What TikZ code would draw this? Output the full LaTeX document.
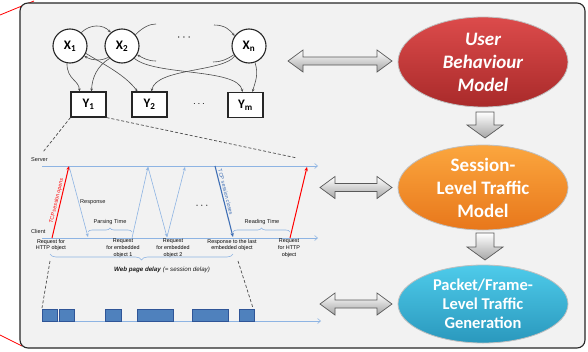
\documentclass[tikz,border=0pt]{standalone}
\usepackage{fontspec}
\setmainfont{Carlito}
\newfontfamily\arialf{Liberation Sans}
\usetikzlibrary{arrows.meta,decorations.pathreplacing,shapes.geometric}
\definecolor{frameBg}{HTML}{F2F2F2}
\definecolor{tline}{HTML}{8EB4E3}
\definecolor{tdark}{HTML}{3F6FB5}
\definecolor{pk}{HTML}{4F81BD}
\definecolor{pkd}{HTML}{2F5597}
\definecolor{redA}{HTML}{DC4B4B}
\definecolor{redB}{HTML}{A92A2A}
\definecolor{orA}{HTML}{FBA63E}
\definecolor{orB}{HTML}{E8771B}
\definecolor{cyA}{HTML}{4ECBEA}
\definecolor{cyB}{HTML}{2A98BD}
\newcommand{\DblArrow}[3]{%
  \path[blockarrow] (#1,#3) -- (#1+15,#3-11) -- (#1+15,#3-4) -- (#2-15,#3-4) -- (#2-15,#3-11) -- (#2,#3)
   -- (#2-15,#3+11) -- (#2-15,#3+4) -- (#1+15,#3+4) -- (#1+15,#3+11) -- cycle;}
\newcommand{\DownArrow}[3]{%
  \path[blockarrow] (#1-9,#2) -- (#1+9,#2) -- (#1+9,#3-13) -- (#1+18,#3-13) -- (#1,#3)
   -- (#1-18,#3-13) -- (#1-9,#3-13) -- cycle;}
\begin{document}
\begin{tikzpicture}[x=1pt,y=-1pt,
  bn/.style={circle, draw=black!85, line width=1.1pt, fill=white, minimum size=34pt, inner sep=0pt, font=\fontsize{13}{15}\selectfont\bfseries},
  bnbox/.style={rectangle, draw=black!85, line width=1.1pt, fill=white, minimum width=35pt, minimum height=25pt, inner sep=0pt, font=\fontsize{13}{15}\selectfont\bfseries},
  bnedge/.style={draw=black!70, line width=0.6pt, -{Stealth[length=3pt,width=2.6pt]}},
  bnopen/.style={draw=black!70, line width=0.6pt},
  blockarrow/.style={draw=black!65, line width=0.7pt, top color=white, bottom color=black!35},
  ell/.style={ellipse, minimum width=170pt, inner sep=0pt, draw=white!75!black, line width=0.8pt, text=white, align=center, font=\fontsize{19}{23}\selectfont\bfseries},
  axisarrow/.style={draw=tline, line width=0.6pt, -{Straight Barb[length=3pt,width=5pt]}},
  tarrow/.style={draw=tline, line width=0.6pt, -{Stealth[length=3.5pt,width=3pt]}},
  redarrow/.style={draw=red, line width=1pt, -{Stealth[length=4pt,width=3.5pt]}},
  closearrow/.style={draw=tdark, line width=1.1pt, -{Stealth[length=4pt,width=3.5pt]}},
  tlabel/.style={font=\arialf\fontsize{5.6}{7}\selectfont, inner sep=0pt, text=black!90},
  blabel/.style={font=\arialf\fontsize{5.4}{6.8}\selectfont, inner sep=0pt, align=center, text=black},
  dashline/.style={draw=black!70, line width=0.7pt, dash pattern=on 3pt off 2pt},
  pkt/.style={draw=pkd, fill=pk, line width=0.6pt},
  tbrace/.style={draw=tline, line width=0.6pt, decorate}
]
\useasboundingbox (0,0) rectangle (588,351);
% callout lines
\coordinate (rA1) at (0,15); \coordinate (rA2) at (34,1);
\coordinate (rB1) at (0,335); \coordinate (rB2) at (22,346);
\draw[red, line width=0.8pt] (rA1) -- (rA2);
\draw[red, line width=0.8pt] (rB1) -- (rB2);
% frame
\draw[fill=frameBg, draw=black!85, line width=1.1pt, rounded corners=8pt] (20,3) rectangle (585,348);

% Bayesian network
\node[bn] (X1) at (70,46) {X\textsubscript{1}};
\node[bn] (X2) at (122,46) {X\textsubscript{2}};
\node[bn] (Xn) at (249,46) {X\textsubscript{n}};
\node[font=\fontsize{12}{14}\selectfont\bfseries] (xdots) at (184,38) {$\cdots$};
\node[bnbox] (Y1) at (88.5,104.5) {Y\textsubscript{1}};
\node[bnbox] (Y2) at (149.5,104.5) {Y\textsubscript{2}};
\node[bnbox] (Ym) at (245.5,105) {Y\textsubscript{m}};
\node[font=\fontsize{10}{12}\selectfont] (ydots) at (199,104) {$\cdots$};

\draw[bnedge] (X1.-100) .. controls (67,80) and (79,80) .. ([xshift=-9pt]Y1.north);
\draw[bnedge] (X2.-135) .. controls (97,66) and (92,78) .. ([xshift=3pt]Y1.north);
\draw[bnedge] (X1.50) .. controls (90,24) and (103,24) .. (X2.130);
\draw[bnedge] (X2.-140) .. controls (101,61) and (93,61) .. (X1.-35);
\draw[bnedge] (X1.-25) .. controls (105,65) and (125,75) .. ([xshift=-12pt]Y2.north);
\draw[bnedge] (X2.-45) .. controls (155,76) and (238,68) .. ([xshift=-3pt]Ym.north);
\draw[bnedge] (Xn.-145) .. controls (224,72) and (156,68) .. ([xshift=2pt]Y2.north);
\draw[bnedge] (Xn.-70) .. controls (259,75) and (255,82) .. ([xshift=7pt]Ym.north);
\coordinate (o1) at (156,24);
\coordinate (o2) at (156,61);
\coordinate (o3) at (214,25);
\coordinate (o4) at (213,62);
\draw[bnopen] (X2.40) .. controls (143,27) and (150,24) .. (o1);
\draw[bnedge] (o2) .. controls (148,61) and (143,58) .. (X2.-30);
\draw[bnedge] (o3) .. controls (225,25) and (230,30) .. (Xn.145);
\draw[bnopen] (Xn.-150) .. controls (226,60) and (220,62) .. (o4);

% dashed zoom lines
\coordinate (dz1) at (43,152);
\coordinate (dz2) at (297,158);
\draw[dashline] (Y1.south west) -- (dz1);
\draw[dashline] (Y1.south east) -- (dz2);

% timing diagram
\coordinate (srvA) at (42,166); \coordinate (srvB) at (318,166);
\coordinate (cliA) at (42,238); \coordinate (cliB) at (318,238);
\draw[axisarrow] (srvA) -- (srvB);
\draw[axisarrow] (cliA) -- (cliB);
\node[tlabel, anchor=west] (srvlbl) at (31,160) {Server};
\node[tlabel, anchor=west] (clilbl) at (31,231) {Client};
\coordinate (c1) at (52,238); \coordinate (s1) at (69,166);
\coordinate (c2) at (88,237); \coordinate (c3) at (132,238);
\coordinate (s2) at (148,167); \coordinate (c4) at (167,237);
\coordinate (s3) at (185,167); \coordinate (s4) at (215,166);
\coordinate (c5) at (233,237); \coordinate (c6) at (290,238);
\coordinate (s5) at (307,167);
\draw[redarrow] (c1) -- node[sloped, above=1pt, pos=0.5, font=\arialf\fontsize{5.3}{6}\selectfont, text=red, inner sep=0pt] {TCP session opens} (s1);
\draw[tarrow] (s1) -- (c2);
\draw[tarrow] (c3) -- (s2);
\draw[tarrow] (s2) -- (c4);
\draw[tarrow] (c4) -- (s3);
\draw[closearrow] (s4) -- node[sloped, above=1.5pt, pos=0.38, font=\arialf\fontsize{5.3}{6}\selectfont, text=tdark, inner sep=0pt] {TCP session closes} (c5);
\draw[redarrow] (c6) -- (s5);
\node[tlabel, anchor=west] (resp) at (80,202) {Response};
\node[font=\fontsize{11}{12}\selectfont] (tdots) at (202,206) {$\cdots$};
\coordinate (pb1) at (88,232); \coordinate (pb2) at (132,232);
\draw[tbrace, decoration={brace, amplitude=4pt}] (pb1) -- (pb2);
\node[tlabel] (parse) at (110,222) {Parsing Time};
\coordinate (rb1) at (233,232); \coordinate (rb2) at (290,232);
\draw[tbrace, decoration={brace, amplitude=4pt}] (rb1) -- (rb2);
\node[tlabel] (read) at (262,222) {Reading Time};
\node[blabel, anchor=north] (l1) at (51,239) {Request for\\HTTP object};
\node[blabel, anchor=north] (l2) at (123,239) {Request\\for embedded\\object 1};
\node[blabel, anchor=north] (l3) at (173,239) {Request\\for embedded\\object 2};
\node[blabel, anchor=north] (l4) at (232,239) {Response to the last\\embedded object};
\node[blabel, anchor=north] (l5) at (289,239) {Request\\for HTTP\\object};
\coordinate (wb1) at (50,254); \coordinate (wb2) at (233,254);
\draw[tbrace, decoration={brace, amplitude=6pt}] (wb2) -- (wb1);
\node[font=\arialf\fontsize{6.2}{7}\selectfont, inner sep=0pt, text=black!90] (wpd) at (162,270) {\textbf{\textit{Web page delay}} \textit{(= session delay)}};

% packets
\coordinate (dz3) at (50,261); \coordinate (dz4) at (42,308);
\coordinate (dz5) at (238,261); \coordinate (dz6) at (253,308);
\draw[dashline] (dz3) -- (dz4);
\draw[dashline] (dz5) -- (dz6);
\coordinate (pA) at (42,321); \coordinate (pB) at (321,321);
\draw[axisarrow] (pA) -- (pB);
\draw[pkt] (42,309) rectangle (57,321);
\draw[pkt] (59,309) rectangle (74,321);
\draw[pkt] (105,309) rectangle (121,321);
\draw[pkt] (137,309) rectangle (173,321);
\draw[pkt] (192,309) rectangle (228,321);
\draw[pkt] (239,309) rectangle (254,321);

% block arrows
\DblArrow{288}{392}{61}
\DblArrow{320}{392}{187.5}
\DblArrow{320}{392}{304}
\DownArrow{485}{112}{138}
\DownArrow{485}{233}{260}

% models
\node[ell, minimum height=90pt, top color=redA, bottom color=redB] (ubm) at (483,62) {\itshape User\\\itshape Behaviour\\\itshape Model};
\node[ell, minimum height=85pt, top color=orA, bottom color=orB] (sltm) at (483,187.5) {Session-\\Level Traffic\\Model};
\node[ell, minimum height=78pt, top color=cyA, bottom color=cyB, font=\fontsize{16.5}{19}\selectfont\bfseries] (pflg) at (483,304) {Packet/Frame-\\Level Traffic\\Generation};
\end{tikzpicture}
\end{document}
